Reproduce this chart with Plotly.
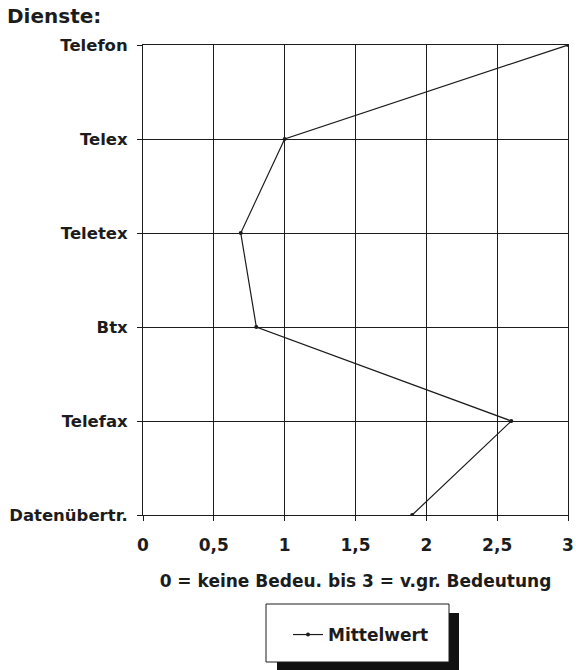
import plotly.graph_objects as go

categories = ["Telefon", "Telex", "Teletex", "Btx", "Telefax", "Datenübertr."]
mittelwert = [3.0, 1.0, 0.69, 0.8, 2.6, 1.9]
x_ticks = [0, 0.5, 1, 1.5, 2, 2.5, 3]
x_ticklabels = ["0", "0,5", "1", "1,5", "2", "2,5", "3"]

n = len(categories)
ypos = [n - 1 - i for i in range(n)]

INK = "#1c1c1c"
FONT = "DejaVu Sans"

fig = go.Figure()
fig.add_trace(go.Scatter(
    x=mittelwert, y=ypos, mode="lines+markers", name="Mittelwert",
    line=dict(color=INK, width=1.2),
    marker=dict(color=INK, size=4),
))

W, H = 576, 670
PL, PR, PT, PB = 143, 568, 45, 515
L, T, R, B = PL, PT, W - PR, H - PB
pw, ph = PR - PL, PB - PT

def px2x(px):
    return (px - PL) / pw

def py2y(py):
    return (PB - py) / ph

fig.update_layout(
    width=W, height=H,
    margin=dict(l=L, r=R, t=T, b=B, autoexpand=False),
    paper_bgcolor="white", plot_bgcolor="white",
    font=dict(family=FONT, color=INK, size=17, weight="bold"),
    title=dict(text="Dienste:", x=7 / W, xanchor="left", xref="container",
               y=1 - 16 / H, yanchor="middle",
               font=dict(family=FONT, size=20, color=INK, weight="bold")),
    showlegend=True,
    legend=dict(x=px2x(288), y=py2y(635), xanchor="left", yanchor="middle",
                bgcolor="rgba(0,0,0,0)", borderwidth=0,
                font=dict(family=FONT, size=17, color=INK, weight="bold")),
    shapes=[
        dict(type="rect", xref="paper", yref="paper",
             x0=px2x(277), x1=px2x(459), y0=py2y(680), y1=py2y(613),
             fillcolor="#111111", line=dict(width=0), layer="above"),
        dict(type="rect", xref="paper", yref="paper",
             x0=px2x(266), x1=px2x(449), y0=py2y(662), y1=py2y(604),
             fillcolor="white", line=dict(color=INK, width=1), layer="above"),
    ],
)

fig.update_xaxes(
    range=[0, 3], tickvals=x_ticks, ticktext=x_ticklabels,
    showgrid=True, gridcolor=INK, gridwidth=1,
    showline=True, linecolor=INK, linewidth=1, mirror=True,
    ticks="outside", ticklen=5, tickcolor=INK, automargin=False,
    zeroline=False, ticklabelstandoff=10,
    tickfont=dict(family=FONT, size=17, color=INK, weight="bold"),
    title=dict(text="0 = keine Bedeu. bis 3 = v.gr. Bedeutung", standoff=20,
               font=dict(family=FONT, size=17, color=INK, weight="bold")),
)
fig.update_yaxes(
    range=[0, n - 1], tickvals=ypos, ticktext=categories,
    showgrid=True, gridcolor=INK, gridwidth=1,
    showline=True, linecolor=INK, linewidth=1, mirror=True,
    ticks="outside", ticklen=5, tickcolor=INK, automargin=False,
    zeroline=False, ticklabelstandoff=6,
    tickfont=dict(family=FONT, size=16.5, color=INK, weight="bold"),
)

fig.write_html("out.html", config={"displayModeBar": False},
               post_script="document.body.style.margin='0';")
